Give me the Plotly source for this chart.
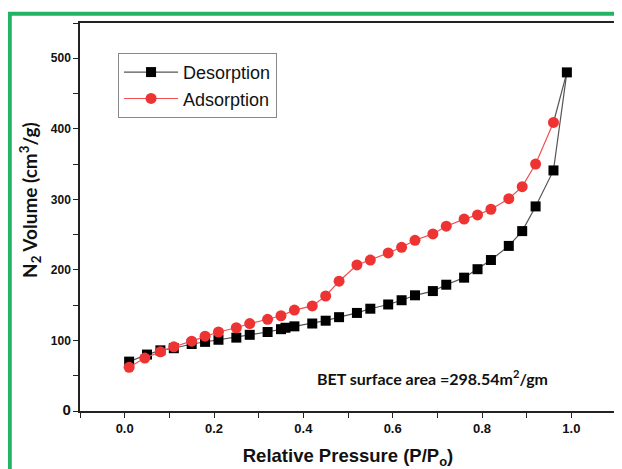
import plotly.graph_objects as go

# ---- data ----
des_x = [0.01, 0.05, 0.08, 0.11, 0.15, 0.18, 0.21, 0.25, 0.28, 0.32, 0.35, 0.36, 0.38,
         0.42, 0.45, 0.48, 0.52, 0.55, 0.59, 0.62, 0.65, 0.69, 0.72, 0.76, 0.79, 0.82,
         0.86, 0.89, 0.92, 0.96, 0.99]
des_y = [70, 80, 86, 89, 95, 98, 101, 104, 108, 112, 116, 118, 120,
         124, 128, 133, 139, 145, 151, 157, 164, 170, 179, 189, 201, 214,
         234, 255, 290, 341, 480]

ads_x = [0.01, 0.045, 0.08, 0.11, 0.15, 0.18, 0.21, 0.25, 0.28, 0.32, 0.35, 0.38,
         0.42, 0.45, 0.48, 0.52, 0.55, 0.59, 0.62, 0.65, 0.69, 0.72, 0.76, 0.79,
         0.82, 0.86, 0.89, 0.92, 0.96]
ads_y = [62, 75, 84, 91, 99, 106, 112, 118, 124, 130, 135, 143,
         149, 163, 184, 207, 214, 224, 232, 242, 251, 262, 272, 278,
         286, 301, 318, 350, 409]

x_ticks = [0.0, 0.2, 0.4, 0.6, 0.8, 1.0]
x_tick_labels = ["0.0", "0.2", "0.4", "0.6", "0.8", "1.0"]
y_ticks = [0, 100, 200, 300, 400, 500]
y_tick_labels = ["<span style='font-size:15px'>0</span>", "100", "200", "300", "400", "500"]

y_title = "<b>N<sub>2</sub> Volume (cm<sup>3</sup>/g)</b>"
x_title = "<b>Relative Pressure (P/P<sub>o</sub>)</b>"
annot_text = "BET surface area =298.54m<sup>2</sup>/gm"

fig = go.Figure()

# closing segment between the branches (gray line)
fig.add_trace(go.Scatter(
    x=[ads_x[-1], des_x[-1]], y=[ads_y[-1], des_y[-1]],
    mode="lines", line=dict(color="#555555", width=1.2),
    showlegend=False, hoverinfo="skip"))

fig.add_trace(go.Scatter(
    x=des_x, y=des_y, mode="lines+markers", name="Desorption",
    line=dict(color="#555555", width=1.2),
    marker=dict(symbol="square", size=10, color="black")))

fig.add_trace(go.Scatter(
    x=ads_x, y=ads_y, mode="lines+markers", name="Adsorption",
    line=dict(color="#f05050", width=1.2),
    marker=dict(symbol="circle", size=11, color="#ee3333")))

axis_line = dict(showline=True, linecolor="#222222", linewidth=1.5, mirror=True,
                 showgrid=False, zeroline=False, ticks="outside", ticklen=5,
                 tickwidth=1.2, tickcolor="#222222", automargin=False)

fig.update_layout(
    width=614, height=461,
    margin=dict(l=72, r=6, t=15, b=58),
    paper_bgcolor="white", plot_bgcolor="white",
    font=dict(family="Liberation Sans, Arial, sans-serif", color="#111111"),
    xaxis=dict(range=[-0.1, 1.1], tickvals=x_ticks, ticktext=x_tick_labels,
               tickfont=dict(size=13, family="Liberation Sans", weight="bold"),
               minor=dict(dtick=0.1, tick0=0, ticks="outside", ticklen=5, tickcolor="#222222"),
               title=dict(text=x_title,
                          font=dict(size=18.5, family="Liberation Sans"), standoff=17),
               **axis_line),
    yaxis=dict(range=[0, 550], tickvals=y_ticks, ticktext=y_tick_labels,
               tickfont=dict(size=12, family="Liberation Sans", weight="bold"),
               minor=dict(dtick=50, tick0=0, ticks="outside", ticklen=5, tickcolor="#222222"),
               **axis_line),
    legend=dict(x=0.071, y=0.923, xanchor="left", yanchor="top",
                bordercolor="#888888", borderwidth=1, bgcolor="white",
                font=dict(size=18, family="Liberation Sans", color="#111111"),
                tracegroupgap=0, itemwidth=54),
    showlegend=True,
)

# y-axis title placed as a rotated annotation (off-centre like the reference)
fig.add_annotation(x=-0.0933, y=0.544, xref="paper", yref="paper",
                   xanchor="center", yanchor="middle", textangle=-90,
                   text=y_title, showarrow=False,
                   font=dict(size=19, family="Lato", color="#111111"))

fig.add_annotation(x=0.426, y=47, xref="x", yref="y", xanchor="left", yanchor="middle",
                   text="<b>" + annot_text + "</b>", showarrow=False,
                   font=dict(size=16, family="Lato", color="#111111"))

# green frame around the picture
fig.add_shape(type="rect", xref="paper", yref="paper",
              x0=-0.131, y0=-0.3, x1=1.2, y1=1.024,
              line=dict(color="#22b463", width=4), layer="above")

fig.write_html("out.html")
